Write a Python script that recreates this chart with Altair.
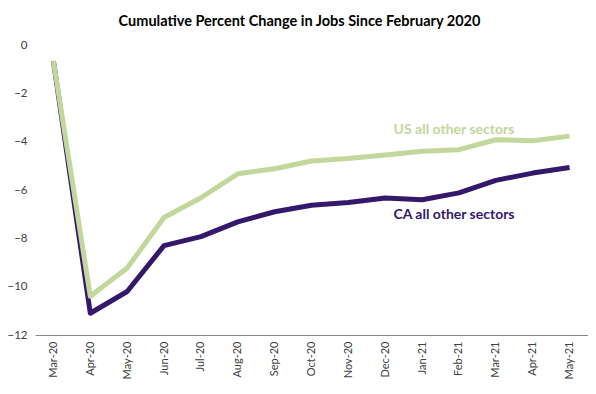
import altair as alt
import pandas as pd

months = ["Mar-20", "Apr-20", "May-20", "Jun-20", "Jul-20", "Aug-20", "Sep-20",
          "Oct-20", "Nov-20", "Dec-20", "Jan-21", "Feb-21", "Mar-21", "Apr-21", "May-21"]
us_values = [-0.67, -10.4, -9.23, -7.14, -6.32, -5.33, -5.12, -4.8, -4.7, -4.55,
             -4.4, -4.33, -3.92, -3.96, -3.77]
ca_values = [-0.67, -11.1, -10.2, -8.3, -7.93, -7.32, -6.9, -6.63, -6.52, -6.33,
             -6.4, -6.12, -5.6, -5.3, -5.07]
series_names = ["CA all other sectors", "US all other sectors"]
series_colors = ["#33186b", "#c3d69b"]

label_months = ["Feb-21", "Feb-21"]
label_values = [-7.02, -3.53]

rows = []
for i, m in enumerate(months):
    rows.append({"month": m, "value": ca_values[i], "series": series_names[0], "order": 0})
for i, m in enumerate(months):
    rows.append({"month": m, "value": us_values[i], "series": series_names[1], "order": 1})
df = pd.DataFrame(rows)

labels_df = pd.DataFrame({
    "month": label_months,
    "value": label_values,
    "series": series_names,
})

FONT = "Lato"

x_enc = alt.X("month:N", sort=months, title=None,
              scale=alt.Scale(paddingInner=0, paddingOuter=0.5),
              axis=alt.Axis(labelAngle=-90, labelFontSize=11, labelColor="#404040",
                            labelFont=FONT, ticks=False, domainColor="#868686",
                            domainWidth=1, labelPadding=6, grid=False))
y_enc = alt.Y("value:Q", title=None,
              scale=alt.Scale(domain=[-12, 0], nice=False, zero=False),
              axis=alt.Axis(values=[0, -2, -4, -6, -8, -10, -12], labelFontSize=11.5,
                            labelColor="#404040", labelFont=FONT, ticks=False,
                            domain=False, grid=False, labelPadding=8))

color_scale = alt.Scale(domain=series_names, range=series_colors)

lines = alt.Chart(df).mark_line(strokeWidth=5, strokeJoin="round").encode(
    x=x_enc,
    y=y_enc,
    color=alt.Color("series:N", scale=color_scale, legend=None),
    order=alt.Order("order:Q"),
    detail="series:N",
)

texts = alt.Chart(labels_df).mark_text(fontSize=14, fontWeight="bold", font=FONT,
                                       dx=-5, align="center", baseline="middle").encode(
    x=alt.X("month:N", sort=months),
    y=alt.Y("value:Q"),
    color=alt.Color("series:N", scale=color_scale, legend=None),
    text="series:N",
)

chart = alt.layer(lines, texts).properties(
    width=553,
    height=290,
    autosize=alt.AutoSizeParams(type="none"),
    padding={"left": 27, "top": 37, "right": 0, "bottom": 46},
    title=alt.TitleParams("Cumulative Percent Change in Jobs Since February 2020",
                          fontSize=14.5, font=FONT, fontWeight="bold", color="#000000",
                          anchor="middle", offset=10, dx=-12),
).configure_view(stroke=None)

chart.save("out.html", embed_options={"renderer": "svg", "actions": False})
